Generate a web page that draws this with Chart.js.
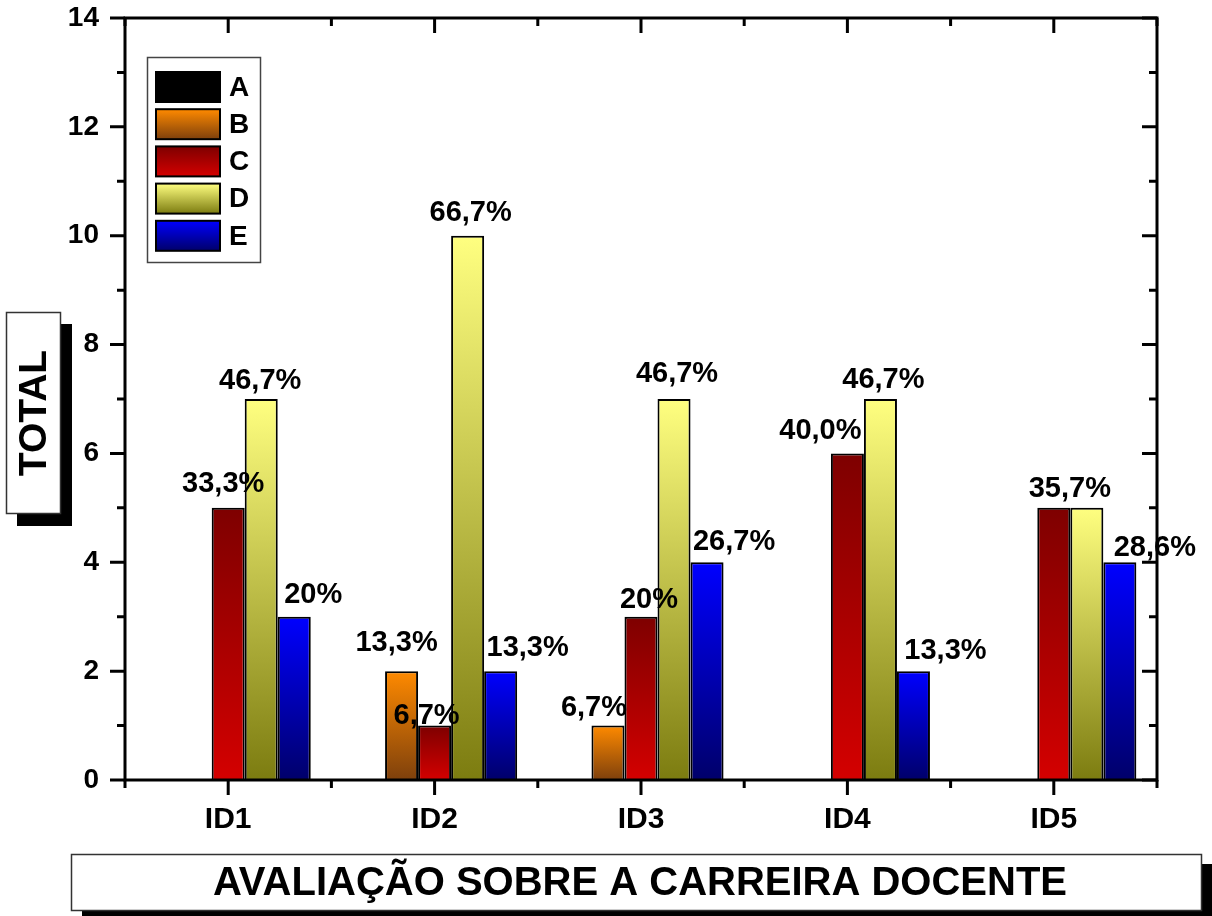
<!DOCTYPE html>
<html>
<head>
<meta charset="utf-8">
<title>Avaliação sobre a carreira docente</title>
<script src="https://cdn.jsdelivr.net/npm/chart.js@4.4.1/dist/chart.umd.min.js"></script>
<style>
  html, body { margin: 0; padding: 0; background: #fff; }
  canvas { display: block; }
</style>
</head>
<body>
<canvas id="myChart" width="1212" height="916"></canvas>
<script>
// data
const categories = ['ID1', 'ID2', 'ID3', 'ID4', 'ID5'];
const seriesNames = ['A', 'B', 'C', 'D', 'E'];
const valuesA = [0, 0, 0, 0, 0];
const valuesB = [0, 2, 1, 0, 0];
const valuesC = [5, 1, 3, 6, 5];
const valuesD = [7, 10, 7, 7, 5];
const valuesE = [3, 2, 4, 2, 4];

// percentage labels printed above the bars
const labelsA = [null, null, null, null, null];
const labelsB = [null, '13,3%', '6,7%', null, null];
const labelsC = ['33,3%', '6,7%', '20%', '40,0%', '35,7%'];
const labelsD = ['46,7%', '66,7%', '46,7%', '46,7%', null];
const labelsE = ['20%', '13,3%', '26,7%', '13,3%', '28,6%'];

const yMin = 0;
const yMax = 14;
const yStep = 2;

const yTitle = 'TOTAL';
const xTitle = 'AVALIAÇÃO SOBRE A CARREIRA DOCENTE';

// styling
const FONT = '"Liberation Sans", Arial, sans-serif';
const gradients = [
    ['#000000', '#000000'],
    ['#ff8a00', '#7e400c'],
    ['#7e0000', '#d40000'],
    ['#ffff80', '#7c7c10'],
    ['#0000ff', '#00006a']
];
// label nudges (dx, dy from bar top centre), like the original
const labelNudges = [
    [null, null, null, null, null],
    [null, [-5, -28], [-14, -18], null, null],
    [[-5, -24], [-8, -10], [8, -17], [-27, -22], [16, -19]],
    [[-1, -18], [3, -23], [3, -25], [3, -19], null],
    [[19, -22], [27, -23], [27, -20], [32, -20], [35, -14]]
];

const allValues = [valuesA, valuesB, valuesC, valuesD, valuesE];
const allLabels = [labelsA, labelsB, labelsC, labelsD, labelsE];

// vertical gradient for each bar, from its top to the zero line
function barGradient(topColor, bottomColor) {
    return function(context) {
        const chart = context.chart;
        const y = chart.scales.y;
        if (!y || context.type !== 'data') return topColor;
        const y0 = y.getPixelForValue(context.raw);
        const y1 = y.getPixelForValue(0);
        if (!isFinite(y0) || !isFinite(y1) || y1 - y0 < 1) return topColor;
        const g = chart.ctx.createLinearGradient(0, y0, 0, y1);
        g.addColorStop(0, topColor);
        g.addColorStop(1, bottomColor);
        return g;
    };
}

// frame with ticks on all four sides
const framePlugin = {
    id: 'frame',
    afterDraw(chart) {
        const ctx = chart.ctx;
        const area = chart.chartArea;
        const x = chart.scales.x;
        const y = chart.scales.y;
        ctx.save();
        ctx.strokeStyle = '#000';
        ctx.lineWidth = 3;
        ctx.lineCap = 'butt';
        ctx.strokeRect(area.left, area.top, area.right - area.left, area.bottom - area.top);

        ctx.beginPath();
        for (let v = yMin; v <= yMax; v++) {
            const py = y.getPixelForValue(v);
            const len = v % yStep === 0 ? 15 : 8;
            ctx.moveTo(area.left - len, py);
            ctx.lineTo(area.left, py);
            ctx.moveTo(area.right - len, py);
            ctx.lineTo(area.right, py);
        }
        const n = categories.length;
        const step = x.getPixelForValue(1) - x.getPixelForValue(0);
        for (let i = 0; i < n; i++) {
            const px = x.getPixelForValue(i);
            ctx.moveTo(px, area.bottom);
            ctx.lineTo(px, area.bottom + 15);
            ctx.moveTo(px, area.top);
            ctx.lineTo(px, area.top + 15);
        }
        for (let i = 0; i <= n; i++) {
            const px = x.getPixelForValue(0) + step * (i - 0.5);
            ctx.moveTo(px, area.bottom);
            ctx.lineTo(px, area.bottom + 8);
            ctx.moveTo(px, area.top);
            ctx.lineTo(px, area.top + 8);
        }
        ctx.stroke();
        ctx.restore();
    }
};

// percentage labels above bars
const labelPlugin = {
    id: 'pctLabels',
    afterDatasetsDraw(chart) {
        const ctx = chart.ctx;
        ctx.save();
        ctx.fillStyle = '#000';
        ctx.font = 'bold 29px ' + FONT;
        ctx.textAlign = 'center';
        ctx.textBaseline = 'middle';
        allLabels.forEach((labels, i) => {
            const meta = chart.getDatasetMeta(i);
            labels.forEach((text, j) => {
                if (!text) return;
                const bar = meta.data[j];
                const nudge = labelNudges[i][j] || [0, -20];
                ctx.fillText(text, bar.x + nudge[0], bar.y + nudge[1]);
            });
        });
        ctx.restore();
    }
};

// legend box, axis title boxes with drop shadows
const boxesPlugin = {
    id: 'boxes',
    afterDraw(chart) {
        const ctx = chart.ctx;
        const area = chart.chartArea;
        ctx.save();

        // legend
        const lx = area.left + 22;
        const ly = area.top + 39;
        ctx.strokeStyle = '#444';
        ctx.lineWidth = 1.5;
        ctx.fillStyle = '#fff';
        ctx.fillRect(lx, ly, 113, 205);
        ctx.strokeRect(lx + 0.5, ly + 0.5, 113, 205);
        ctx.font = 'bold 28px ' + FONT;
        ctx.textAlign = 'left';
        ctx.textBaseline = 'middle';
        seriesNames.forEach((name, k) => {
            const sx = lx + 9;
            const sy = ly + 15 + k * 37.2;
            const g = ctx.createLinearGradient(0, sy, 0, sy + 30);
            g.addColorStop(0, gradients[k][0]);
            g.addColorStop(1, gradients[k][1]);
            ctx.fillStyle = g;
            ctx.fillRect(sx, sy, 64, 30);
            ctx.strokeStyle = '#000';
            ctx.lineWidth = 2;
            ctx.strokeRect(sx, sy, 64, 30);
            ctx.fillStyle = '#000';
            ctx.fillText(name, lx + 82, sy + 16);
        });

        // y title box
        ctx.fillStyle = '#000';
        ctx.fillRect(17, 324, 55, 202);
        ctx.fillStyle = '#fff';
        ctx.fillRect(6, 312, 55, 202);
        ctx.strokeStyle = '#333';
        ctx.lineWidth = 1.5;
        ctx.strokeRect(6.5, 312.5, 54, 201);
        ctx.save();
        ctx.translate(35, 413);
        ctx.rotate(-Math.PI / 2);
        ctx.fillStyle = '#000';
        ctx.font = 'bold 39px ' + FONT;
        ctx.textAlign = 'center';
        ctx.textBaseline = 'middle';
        ctx.fillText(yTitle, 0, 0);
        ctx.restore();

        // x title box
        ctx.fillStyle = '#000';
        ctx.fillRect(82, 864, 1130, 60);
        ctx.fillStyle = '#fff';
        ctx.fillRect(71, 854, 1131, 57);
        ctx.strokeStyle = '#333';
        ctx.lineWidth = 1.5;
        ctx.strokeRect(71.5, 854.5, 1130, 56);
        ctx.fillStyle = '#000';
        ctx.font = 'bold 40px ' + FONT;
        ctx.textAlign = 'center';
        ctx.textBaseline = 'middle';
        ctx.fillText(xTitle, 640, 884);

        ctx.restore();
    }
};

function noScalePadding(scale) {
    scale.paddingTop = 0;
    scale.paddingBottom = 0;
    scale.paddingLeft = 0;
    scale.paddingRight = 0;
}

const datasets = seriesNames.map((name, k) => ({
    label: name,
    data: allValues[k],
    backgroundColor: barGradient(gradients[k][0], gradients[k][1]),
    borderColor: '#000',
    borderWidth: 2,
    categoryPercentage: 0.8,
    barPercentage: 1.0
}));

const ctx = document.getElementById('myChart').getContext('2d');
const myChart = new Chart(ctx, {
    type: 'bar',
    data: {
        labels: categories,
        datasets: datasets
    },
    options: {
        responsive: false,
        animation: false,
        devicePixelRatio: 1,
        layout: {
            padding: { top: 18, right: 55, bottom: 0, left: 0 }
        },
        plugins: {
            legend: { display: false },
            tooltip: { enabled: false }
        },
        scales: {
            x: {
                grid: { display: false, drawTicks: false },
                border: { display: false },
                ticks: {
                    color: '#000',
                    font: { family: FONT, size: 30, weight: 'bold' },
                    padding: 22,
                    maxRotation: 0,
                    minRotation: 0
                },
                afterFit: function(scale) {
                    scale.height = 136;
                    noScalePadding(scale);
                }
            },
            y: {
                min: yMin,
                max: yMax,
                grid: { display: false, drawTicks: false },
                border: { display: false },
                ticks: {
                    stepSize: 1,
                    color: '#000',
                    font: { family: FONT, size: 28, weight: 'bold' },
                    padding: 26,
                    callback: function(value) {
                        return value % yStep === 0 ? value : '';
                    }
                },
                afterFit: function(scale) {
                    scale.width = 125;
                    noScalePadding(scale);
                }
            }
        }
    },
    plugins: [framePlugin, labelPlugin, boxesPlugin]
});
</script>
</body>
</html>
